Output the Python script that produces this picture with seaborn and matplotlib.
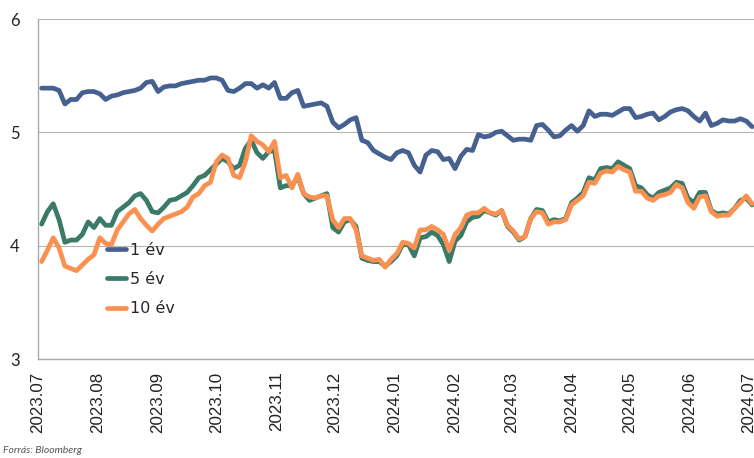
import pandas as pd
import seaborn as sns
import matplotlib.pyplot as plt
import matplotlib.dates as mdates

# sampling dates (every 3 days)
DATES = pd.date_range("2023-07-03", "2024-07-03", freq="3D")

YIELD_1Y = [
    5.39, 5.39, 5.39, 5.37, 5.25, 5.29, 5.29, 5.35, 5.36, 5.36,
    5.34, 5.29, 5.32, 5.33, 5.35, 5.36, 5.37, 5.39, 5.44, 5.45,
    5.36, 5.40, 5.41, 5.41, 5.43, 5.44, 5.45, 5.46, 5.46, 5.48,
    5.48, 5.46, 5.37, 5.36, 5.39, 5.43, 5.43, 5.39, 5.42, 5.39,
    5.44, 5.30, 5.30, 5.35, 5.37, 5.23, 5.24, 5.25, 5.26, 5.23,
    5.09, 5.04, 5.07, 5.11, 5.13, 4.93, 4.91, 4.84, 4.81, 4.78,
    4.76, 4.82, 4.84, 4.82, 4.71, 4.65, 4.80, 4.84, 4.83, 4.76,
    4.77, 4.68, 4.79, 4.85, 4.84, 4.98, 4.96, 4.97, 5.00, 5.01,
    4.97, 4.93, 4.94, 4.94, 4.93, 5.06, 5.07, 5.02, 4.96, 4.97,
    5.02, 5.06, 5.01, 5.06, 5.19, 5.14, 5.16, 5.16, 5.15, 5.18,
    5.21, 5.21, 5.13, 5.14, 5.16, 5.17, 5.11, 5.14, 5.18, 5.20,
    5.21, 5.19, 5.14, 5.10, 5.17, 5.06, 5.08, 5.11, 5.10, 5.10,
    5.12, 5.10, 5.05,
]

YIELD_5Y = [
    4.19, 4.30, 4.37, 4.23, 4.03, 4.05, 4.05, 4.10, 4.21, 4.16,
    4.24, 4.18, 4.18, 4.30, 4.34, 4.38, 4.44, 4.46, 4.40, 4.30,
    4.29, 4.34, 4.40, 4.41, 4.44, 4.47, 4.53, 4.60, 4.62, 4.67,
    4.72, 4.77, 4.74, 4.68, 4.71, 4.86, 4.93, 4.82, 4.77, 4.83,
    4.84, 4.51, 4.53, 4.53, 4.61, 4.46, 4.40, 4.42, 4.44, 4.46,
    4.16, 4.12, 4.21, 4.23, 4.17, 3.89, 3.87, 3.86, 3.86, 3.82,
    3.86, 3.91, 4.01, 4.01, 3.91, 4.07, 4.08, 4.12, 4.09, 4.01,
    3.86, 4.04, 4.09, 4.21, 4.25, 4.26, 4.31, 4.29, 4.27, 4.31,
    4.17, 4.12, 4.05, 4.08, 4.24, 4.32, 4.31, 4.21, 4.23, 4.22,
    4.24, 4.38, 4.42, 4.47, 4.60, 4.58, 4.68, 4.69, 4.68, 4.74,
    4.71, 4.68, 4.53, 4.51, 4.45, 4.42, 4.47, 4.49, 4.51, 4.56,
    4.55, 4.42, 4.38, 4.47, 4.47, 4.31, 4.28, 4.29, 4.28, 4.33,
    4.40, 4.42, 4.36,
]

YIELD_10Y = [
    3.86, 3.96, 4.07, 3.98, 3.82, 3.80, 3.78, 3.83, 3.88, 3.92,
    4.07, 4.02, 4.01, 4.14, 4.21, 4.28, 4.32, 4.24, 4.18, 4.13,
    4.19, 4.24, 4.26, 4.28, 4.30, 4.34, 4.43, 4.46, 4.53, 4.56,
    4.74, 4.80, 4.77, 4.62, 4.60, 4.74, 4.97, 4.92, 4.89, 4.83,
    4.92, 4.60, 4.62, 4.51, 4.63, 4.46, 4.43, 4.42, 4.44, 4.44,
    4.23, 4.16, 4.24, 4.24, 4.14, 3.91, 3.89, 3.87, 3.88, 3.81,
    3.88, 3.93, 4.03, 4.02, 3.98, 4.14, 4.14, 4.17, 4.14, 4.10,
    3.96, 4.10, 4.16, 4.27, 4.29, 4.29, 4.33, 4.29, 4.28, 4.31,
    4.18, 4.13, 4.06, 4.08, 4.24, 4.30, 4.29, 4.19, 4.21, 4.21,
    4.23, 4.36, 4.40, 4.44, 4.56, 4.55, 4.64, 4.66, 4.65, 4.70,
    4.67, 4.65, 4.48, 4.48, 4.42, 4.40, 4.44, 4.45, 4.47, 4.54,
    4.51, 4.38, 4.33, 4.43, 4.44, 4.30, 4.26, 4.27, 4.27, 4.33,
    4.38, 4.44, 4.37,
]

SERIES = ["1 év", "5 év", "10 év"]
COLORS = ["#46618f", "#3b7a68", "#fb9150"]
Y_TICKS = [3, 4, 5, 6]

sns.set_style("white")
plt.rcParams["font.family"] = ["DejaVu Sans"]

df = pd.DataFrame({"date": DATES, SERIES[0]: YIELD_1Y, SERIES[1]: YIELD_5Y, SERIES[2]: YIELD_10Y})
long_df = df.melt(id_vars="date", var_name="series", value_name="value")

fig = plt.figure(figsize=(7.54, 4.58), dpi=100)
ax = fig.add_axes([0.050, 0.216, 0.95, 0.7425])

sns.lineplot(
    data=long_df, x="date", y="value", hue="series",
    hue_order=SERIES, palette=COLORS, linewidth=3.4, ax=ax
)

ax.set_xlim(pd.Timestamp("2023-07-01"), pd.Timestamp("2024-07-04"))
ax.set_ylim(3, 6)
ax.set_yticks(Y_TICKS)
ax.yaxis.grid(True, color="#b5b5b5", linewidth=0.8)
ax.xaxis.grid(False)

ax.xaxis.set_major_locator(mdates.MonthLocator())
ax.xaxis.set_major_formatter(mdates.DateFormatter("%Y.%m"))
plt.setp(ax.get_xticklabels(), rotation=90, fontsize=12.2, color="#222222",
         family="Liberation Sans")
plt.setp(ax.get_yticklabels(), fontsize=12, color="#222222", family="Lato")
ax.tick_params(axis="x", direction="inout", length=10, width=0.8, color="#999999", pad=4)
ax.tick_params(axis="y", direction="out", length=5, width=0.8, color="#999999", pad=8)

for side in ["top", "right"]:
    ax.spines[side].set_visible(False)
for side in ["left", "bottom"]:
    ax.spines[side].set_color("#aaaaaa")
    ax.spines[side].set_linewidth(1.0)

ax.set_xlabel("")
ax.set_ylabel("")

handles, labels = ax.get_legend_handles_labels()
ax.legend(
    handles, labels, loc="upper left", bbox_to_anchor=(0.076, 0.385),
    frameon=False, fontsize=11.5, handlelength=1.25, handletextpad=0.25,
    labelspacing=0.9
)

fig.text(0.004, 0.012, "Forrás: Bloomberg", fontsize=7.5, style="italic",
         color="#555555", family="Lato")

fig.savefig("out.png", dpi=100)
plt.close(fig)
